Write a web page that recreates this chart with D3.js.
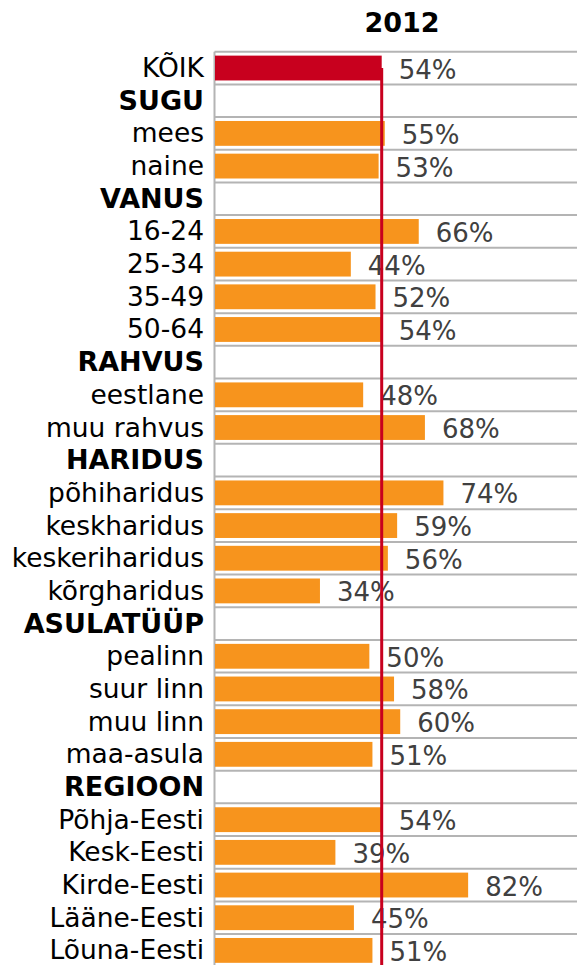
<!DOCTYPE html>
<html>
<head>
<meta charset="utf-8">
<script src="https://cdn.jsdelivr.net/npm/d3@7"></script>
<style>
  html, body { margin: 0; padding: 0; background: #fff; }
  svg { display: block; font-family: "DejaVu Sans", Verdana, sans-serif; }
</style>
</head>
<body>
<div id="chart"></div>
<script>
// data
const title = '2012'
const categories = [
  'KÕIK', 'SUGU', 'mees', 'naine', 'VANUS', '16-24', '25-34', '35-49', '50-64',
  'RAHVUS', 'eestlane', 'muu rahvus', 'HARIDUS', 'põhiharidus', 'keskharidus',
  'keskeriharidus', 'kõrgharidus', 'ASULATÜÜP', 'pealinn', 'suur linn', 'muu linn',
  'maa-asula', 'REGIOON', 'Põhja-Eesti', 'Kesk-Eesti', 'Kirde-Eesti', 'Lääne-Eesti', 'Lõuna-Eesti'
]
const groupHeaders = [ 'SUGU', 'VANUS', 'RAHVUS', 'HARIDUS', 'ASULATÜÜP', 'REGIOON' ]
const values = [
  54, null, 55, 53, null, 66, 44, 52, 54,
  null, 48, 68, null, 74, 59,
  56, 34, null, 50, 58, 60,
  51, null, 54, 39, 82, 45, 51
]
const totalLabel = 'KÕIK'

const width = 577
const height = 965
const plotLeft = 214.5
const plotTop = 51.7
const ROW = 32.68

const svg = d3.select('#chart').append('svg')
  .attr('width', width)
  .attr('height', height)

const x = d3.scaleLinear().domain([ 0, 100 ]).range([ plotLeft + 0.5, plotLeft + 0.5 + 308.7 ])
const y = d3.scaleBand().domain(categories).range([ plotTop, plotTop + ROW * categories.length ])
const bw = y.bandwidth()
const barH = bw * 0.76

const rows = categories.map(function (c, i) { return { name: c, value: values[i] } })

// title
svg.append('text')
  .attr('x', 402)
  .attr('y', 32)
  .attr('text-anchor', 'middle')
  .style('font-size', '27px')
  .style('font-weight', 'bold')
  .attr('fill', '#000')
  .text(title)

// row separators
const bounds = categories.map(function (c) { return y(c) }).concat([ y.range()[1] ])
svg.selectAll('.grid')
  .data(bounds)
  .enter().append('line')
  .attr('class', 'grid')
  .attr('x1', plotLeft)
  .attr('x2', width)
  .attr('y1', function (d) { return d })
  .attr('y2', function (d) { return d })
  .attr('stroke', '#b4b4b4')
  .attr('stroke-width', 2)

// left axis line
svg.append('line')
  .attr('x1', plotLeft).attr('x2', plotLeft)
  .attr('y1', plotTop).attr('y2', height)
  .attr('stroke', '#b4b4b4')
  .attr('stroke-width', 2)

// bars
svg.selectAll('.bar')
  .data(rows.filter(function (d) { return d.value !== null }))
  .enter().append('rect')
  .attr('class', 'bar')
  .attr('x', x(0))
  .attr('y', function (d) { return y(d.name) + (bw - barH) / 2 })
  .attr('width', function (d) { return x(d.value) - x(0) })
  .attr('height', barH)
  .attr('fill', function (d) { return d.name === totalLabel ? '#c8001e' : '#f7941d' })

// value labels
svg.selectAll('.val')
  .data(rows.filter(function (d) { return d.value !== null }))
  .enter().append('text')
  .attr('class', 'val')
  .attr('x', function (d) { return x(d.value) + 17 })
  .attr('y', function (d) { return y(d.name) + bw / 2 + 10.5 })
  .style('font-size', '26px')
  .attr('fill', '#404040')
  .text(function (d) { return d.value + '%' })

// category labels
svg.selectAll('.cat')
  .data(rows)
  .enter().append('text')
  .attr('class', 'cat')
  .attr('x', 204)
  .attr('y', function (d) { return y(d.name) + bw / 2 + 9 })
  .attr('text-anchor', 'end')
  .style('font-size', function (d) { return groupHeaders.indexOf(d.name) >= 0 ? '27px' : '26.5px' })
  .style('font-weight', function (d) { return groupHeaders.indexOf(d.name) >= 0 ? 'bold' : 'normal' })
  .attr('fill', '#000')
  .text(function (d) { return d.name })

// reference line at total value
svg.append('line')
  .attr('x1', x(values[0])).attr('x2', x(values[0]))
  .attr('y1', y(totalLabel) + bw / 2)
  .attr('y2', height)
  .attr('stroke', '#c8001e')
  .attr('stroke-width', 3)
</script>
</body>
</html>
